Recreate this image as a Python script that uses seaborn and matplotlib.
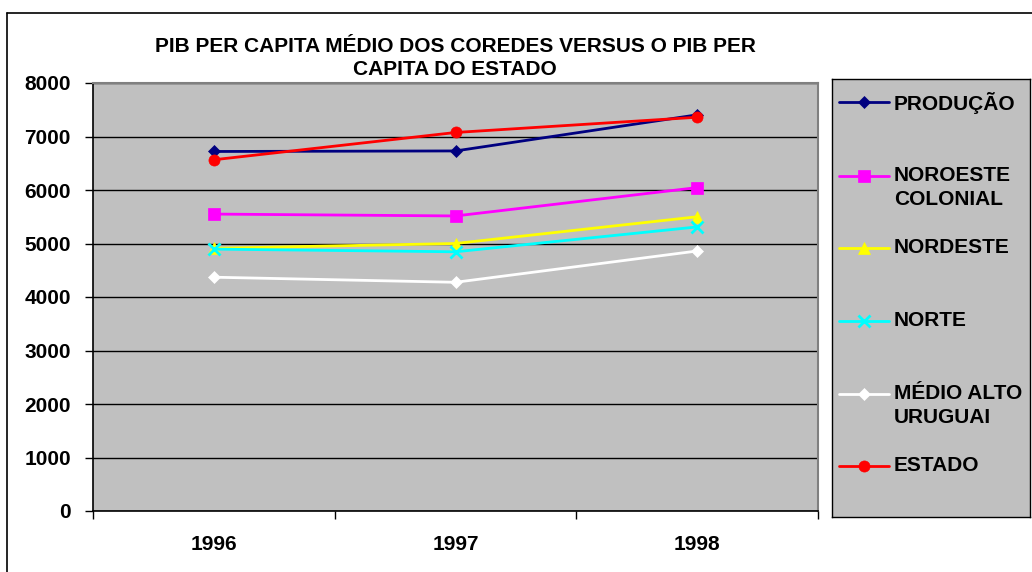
import pandas as pd
import matplotlib.pyplot as plt
import seaborn as sns
from matplotlib.lines import Line2D

# Data
years = ["1996", "1997", "1998"]
series_names = ["PRODUÇÃO", "NOROESTE COLONIAL", "NORDESTE", "NORTE", "MÉDIO ALTO URUGUAI", "ESTADO"]
legend_labels = ["PRODUÇÃO", "NOROESTE\nCOLONIAL", "NORDESTE", "NORTE", "MÉDIO ALTO\nURUGUAI", "ESTADO"]
producao = [6720, 6730, 7405]
noroeste = [5550, 5515, 6045]
nordeste = [4910, 5000, 5500]
norte = [4895, 4845, 5310]
medio_alto = [4370, 4275, 4860]
estado = [6565, 7075, 7360]

colors = ["#000080", "#FF00FF", "#FFFF00", "#00FFFF", "#FFFFFF", "#FF0000"]
markers = ["D", "s", "^", "x", "D", "o"]
msizes = [6, 8, 8, 8, 6, 8]

rows = []
for name, vals in zip(series_names, [producao, noroeste, nordeste, norte, medio_alto, estado]):
    for i, v in enumerate(vals):
        rows.append({"pos": i, "year": years[i], "serie": name, "valor": v})
df = pd.DataFrame(rows)

sns.set_style("white")
plt.rcParams["font.family"] = ["Liberation Sans", "DejaVu Sans"]
plt.rcParams["font.weight"] = "bold"
plt.rcParams["text.color"] = "black"
plt.rcParams["xtick.color"] = "black"
plt.rcParams["ytick.color"] = "black"

fig = plt.figure(figsize=(10.32, 5.72), dpi=100)
W, H = 1032, 572

# outer chart border (left and top visible)
fig.add_artist(Line2D([7 / W, 7 / W], [0, 1 - 13 / H], color="black", lw=1.2, transform=fig.transFigure))
fig.add_artist(Line2D([7 / W, 1], [1 - 13 / H, 1 - 13 / H], color="black", lw=1.2, transform=fig.transFigure))

ax = fig.add_axes([93 / W, 1 - 511 / H, 725 / W, 428 / H])
ax.set_facecolor("#C0C0C0")

for name, c, m, ms in zip(series_names, colors, markers, msizes):
    sub = df[df["serie"] == name]
    sns.lineplot(data=sub, x="pos", y="valor", ax=ax, color=c, marker=m,
                 markersize=ms, markeredgecolor=c, markeredgewidth=2 if m == "x" else 0.5,
                 lw=2, legend=False, zorder=3)

ax.set_xlim(-0.5, 2.5)
ax.set_ylim(0, 8000)
ax.set_yticks(range(0, 8001, 1000))
ax.yaxis.grid(True, color="black", lw=1)
ax.set_axisbelow(True)
ax.set_xticks([-0.5, 0.5, 1.5, 2.5])
ax.set_xticklabels([])
ax.set_xticks([0, 1, 2], minor=True)
ax.set_xticklabels(years, minor=True)
ax.tick_params(axis="x", which="major", bottom=True, direction="out", length=6, color="black", width=1)
ax.tick_params(axis="x", which="minor", bottom=True, length=0, pad=17, labelsize=15)
ax.tick_params(axis="y", left=True, direction="out", length=6, color="black", width=1, pad=10, labelsize=15)
ax.set_xlabel("")
ax.set_ylabel("")
for s in ["left", "bottom"]:
    ax.spines[s].set_color("black")
    ax.spines[s].set_linewidth(1.2)
for s in ["top", "right"]:
    ax.spines[s].set_color("#808080")
    ax.spines[s].set_linewidth(1.5)

fig.text(455 / W, 1 - 58 / H, "PIB PER CAPITA MÉDIO DOS COREDES VERSUS O PIB PER\nCAPITA DO ESTADO",
         ha="center", va="center", fontsize=15, fontweight="bold", linespacing=1.32)

# legend box
lax = fig.add_axes([832 / W, 1 - 517 / H, 198 / W, 438 / H])
lax.set_facecolor("#C0C0C0")
lax.set_xticks([])
lax.set_yticks([])
for s in lax.spines.values():
    s.set_color("black")
    s.set_linewidth(1)
entry_y = [102, 176, 248, 321, 394, 466]
for lab, c, m, ms, y in zip(legend_labels, colors, markers, msizes, entry_y):
    yf = (517 - y) / 438
    lax.plot([(839 - 832) / 198, (889 - 832) / 198], [yf, yf], color=c, lw=2, transform=lax.transAxes)
    lax.plot([(864 - 832) / 198], [yf], color=c, marker=m, markersize=ms, markeredgecolor=c,
             markeredgewidth=2 if m == "x" else 0.5, transform=lax.transAxes)
    lax.text((894 - 832) / 198, yf + 10 / 438, lab, transform=lax.transAxes, ha="left", va="top",
             fontsize=15, fontweight="bold", linespacing=1.35)
lax.set_xlim(0, 1)
lax.set_ylim(0, 1)

fig.savefig("out.png", dpi=100)
